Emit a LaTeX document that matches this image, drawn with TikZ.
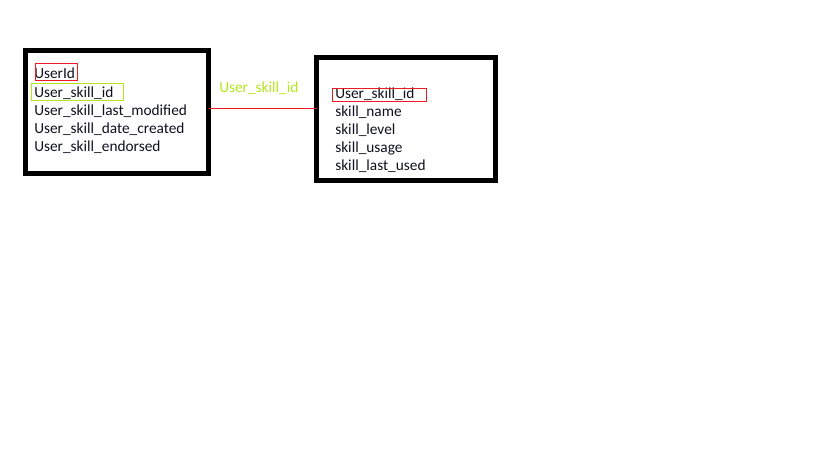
\documentclass[tikz,border=0pt]{standalone}
\usepackage{fontspec}
\setmainfont{Carlito}
\definecolor{lime}{HTML}{B5E61D}
\definecolor{redl}{HTML}{ED1C24}
\definecolor{txt}{HTML}{101020}
\begin{document}
\begin{tikzpicture}[x=0.75pt,y=-0.75pt,
  tbl/.style={draw=black,line width=3.75pt},
  fld/.style={anchor=west,inner sep=0pt,font=\fontsize{11.5pt}{13pt}\selectfont,text=txt},
  hl/.style={draw,line width=0.75pt}]
\useasboundingbox (0,0) rectangle (819,460);
\fill[white] (0,0) rectangle (819,460);
% tables
\draw[tbl] (25.5,50.5) rectangle (208.5,173.5);
\coordinate (lt) at (208.5,109);
\draw[tbl] (316.5,57.5) rectangle (495.5,180.5);
\coordinate (rt) at (316.5,109);
% left fields
\node[fld] (l1) at (34,73.5) {UserId};
\node[fld] (l2) at (34,93) {User\_skill\_id};
\node[fld] (l3) at (34,111) {User\_skill\_last\_modified};
\node[fld] (l4) at (34,129) {User\_skill\_date\_created};
\node[fld] (l5) at (34,147) {User\_skill\_endorsed};
% right fields
\node[fld] (r1) at (335,94.5) {User\_skill\_id};
\node[fld] (r2) at (335,112.5) {skill\_name};
\node[fld] (r3) at (335,130.5) {skill\_level};
\node[fld] (r4) at (335,148) {skill\_usage};
\node[fld] (r5) at (335,166) {skill\_last\_used};
% highlight boxes
\draw[hl,redl] (35.5,63.5) rectangle (77.5,81);
\draw[hl,lime] (31.5,84) rectangle (123,101);
\draw[hl,redl] (332.5,88.5) rectangle (426.5,101.5);
% connector
\draw[redl,line width=0.75pt] (lt) -- (rt);
\node[fld,text=lime] (lbl) at (219,88.5) {User\_skill\_id};
\end{tikzpicture}
\end{document}
